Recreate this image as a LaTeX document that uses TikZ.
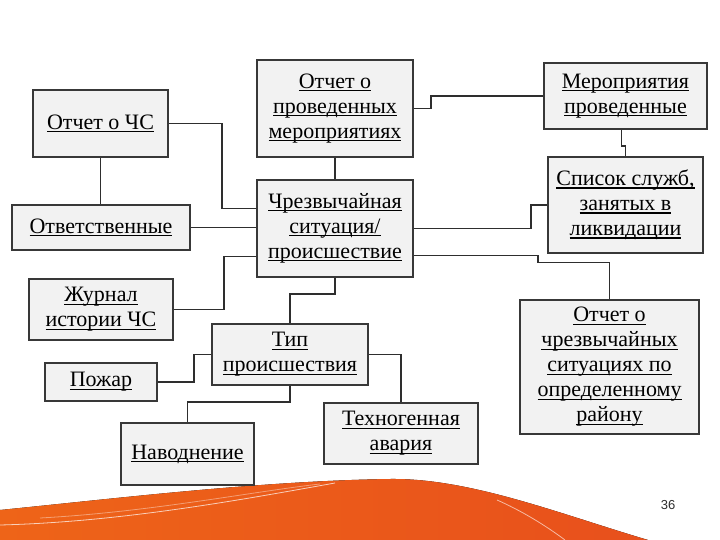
\documentclass[tikz,border=0pt]{standalone}
\usepackage{fontspec}
\setmainfont{Liberation Serif}
\newfontfamily\numfont{Liberation Sans}
\definecolor{boxfill}{HTML}{F2F2F2}
\definecolor{boxline}{HTML}{383838}
\definecolor{linkcol}{HTML}{2E2E2E}
\definecolor{swA}{HTML}{EE6418}
\definecolor{swB}{HTML}{F58A12}
\definecolor{swC}{HTML}{E8501C}
\newsavebox\ulbox
\newcommand\ulin[1]{\sbox\ulbox{#1}\rlap{\rule[-2.8pt]{\wd\ulbox}{1.1pt}}\usebox\ulbox}
\begin{document}
\begin{tikzpicture}[x=1pt,y=-1pt,
    box/.style={draw=boxline,fill=boxfill,line width=1.6pt,align=center,
        font=\fontsize{22}{25}\selectfont,inner sep=0pt},
    wh/.style 2 args={minimum width=#1,minimum height=#2},
    link/.style={draw=linkcol,line width=1.8pt}]
    \useasboundingbox (0,0) rectangle (720,540);
    \fill[white] (0,0) rectangle (720,540);

    % orange swoosh at the bottom
    \fill[left color=swA,middle color=swB,right color=swC]
        (0,510) .. controls (120,498) and (260,481) .. (390,479)
        .. controls (470,478) and (560,514) .. (648,540) -- (0,540) -- cycle;
    \draw[white,opacity=.7,line width=.8pt]
        (0,525) .. controls (120,522) and (240,500) .. (335,483);
    \draw[white,opacity=.4,line width=.8pt]
        (40,518) .. controls (150,512) and (250,492) .. (320,484);
    \draw[white,opacity=.6,line width=.8pt]
        (497,500) .. controls (520,510) and (545,525) .. (565,540);
    \node[font=\numfont\fontsize{13}{15}\selectfont,text=linkcol] (PgNum) at (668,505) {36};

    \node[box,wh={135}{67}] (RepCS)   at (100.5,123.5) {\ulin{Отчет о ЧС}};
    \node[box,wh={178}{45}] (Resp)    at (101,227.5)   {\ulin{Ответственные}};
    \node[box,wh={156}{97}] (RepMeas) at (335,108.5)   {\ulin{Отчет о}\\\ulin{проведенных}\\\ulin{мероприятиях}};
    \node[box,wh={156}{97}] (CS)      at (335,228.5)   {\ulin{Чрезвычайная}\\\ulin{ситуация/}\\\ulin{происшествие}};
    \node[box,wh={163}{66}] (Meas)    at (625.5,96)    {\ulin{Мероприятия}\\\ulin{проведенные}};
    \node[box,wh={155}{96}] (Serv)    at (625.5,205)   {\ulin{Список служб,}\\\ulin{занятых в}\\\ulin{ликвидации}};
    \node[box,wh={144}{61}] (Log)     at (101,309.5)   {\ulin{Журнал}\\\ulin{истории ЧС}};
    \node[box,wh={112}{38}] (Fire)    at (101,382)     {\ulin{Пожар}};
    \node[box,wh={133}{62}] (Flood)   at (187.5,454)   {\ulin{Наводнение}};
    \node[box,wh={156}{61}] (Type)    at (290,354.5)   {\ulin{Тип}\\\ulin{происшествия}};
    \node[box,wh={154}{61}] (Tech)    at (401,433.5)   {\ulin{Техногенная}\\\ulin{авария}};
    \node[box,wh={179}{134}] (RepArea) at (609.5,367)  {\ulin{Отчет о}\\\ulin{чрезвычайных}\\\ulin{ситуациях по}\\\ulin{определенному}\\\ulin{району}};

    \draw[link] ([yshift=20pt]CS.west) -- ++(-34,0) |- (RepCS.east);
    \draw[link] (Resp.east) -- (Resp.east -| CS.west);
    \draw[link] ([yshift=-28pt]CS.west) -- ++(-32,0) |- (Log.east);
    \draw[link] (RepCS.south) -- (RepCS.south |- Resp.north);
    \draw[link] (RepMeas.south) -- (CS.north);
    \draw[link] (RepMeas.east) -- ++(17,0) |- (Meas.west);
    \draw[link] ([xshift=-4pt]Meas.south) -- ++(0,16) -| (Serv.north);
    \draw[link] (CS.east) -- ++(117,0) |- (Serv.west);
    \draw[link] ([yshift=-27pt]CS.east) -- ++(124,0) -- ++(0,7) -| (RepArea.north);
    \draw[link] (CS.south) -- ++(0,16) -| (Type.north);
    \draw[link] (Type.west) -- ++(-17,0) |- (Fire.east);
    \draw[link] (Type.south) -- ++(0,16) -| (Flood.north);
    \draw[link] (Type.east) -| (Tech.north);
\end{tikzpicture}
\end{document}
